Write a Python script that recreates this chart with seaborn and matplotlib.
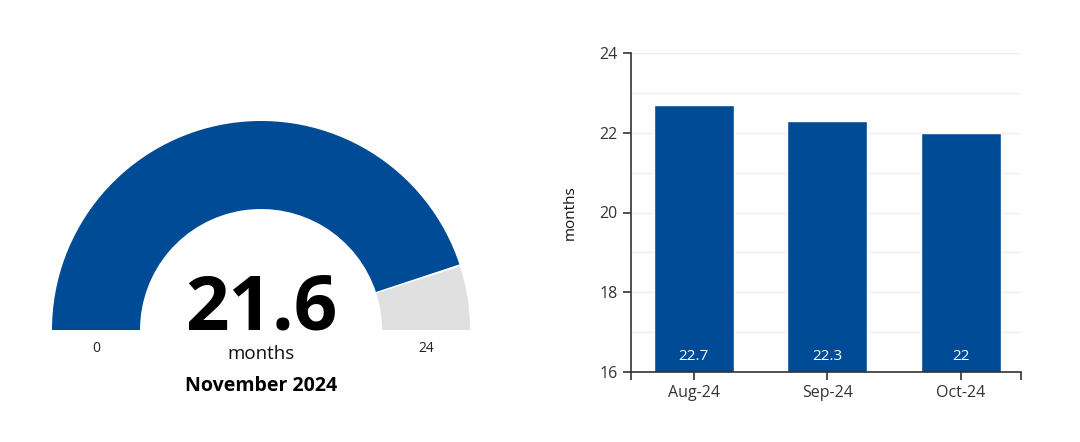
import pandas as pd
import seaborn as sns
import matplotlib.pyplot as plt
from matplotlib.patches import Wedge

# gauge data
gauge_value = 21.6
gauge_min = 0
gauge_max = 24
gauge_unit = "months"
gauge_title = "November 2024"

# bar data
months = ["Aug-24", "Sep-24", "Oct-24"]
values = [22.7, 22.3, 22.0]
value_labels = ["22.7", "22.3", "22"]

blue = "#004B96"
grey = "#E0E0E0"

sns.set_theme(style="white")
plt.rcParams['font.family'] = ['Open Sans', 'DejaVu Sans']

fig = plt.figure(figsize=(10.8, 4.42), dpi=100)

# --- gauge (pixel-like data units) ---
gax = fig.add_axes([0, 0, 0.5, 1])
gax.set_xlim(0, 540)
gax.set_ylim(0, 442)
gax.axis("off")

cx, cy = 261, 112
r_out, ring = 209, 88
split = 180 - 180 * (gauge_value - gauge_min) / (gauge_max - gauge_min)
gax.add_patch(Wedge((cx, cy), r_out, split, 180, width=ring, facecolor=blue, edgecolor="none"))
gax.add_patch(Wedge((cx, cy), r_out, 0, split, width=ring, facecolor=grey, edgecolor="none"))
# thin white gap between the two parts
gax.add_patch(Wedge((cx, cy), r_out + 1, split - 0.3, split + 0.3, width=ring + 2, facecolor="white", edgecolor="none"))

mid_r = r_out - ring / 2
gax.text(cx - mid_r, cy - 18, str(gauge_min), ha="center", va="center", fontsize=10, color="#222222")
gax.text(cx + mid_r, cy - 18, str(gauge_max), ha="center", va="center", fontsize=10, color="#222222")
gax.text(cx, cy + 1, f"{gauge_value}", ha="center", va="baseline", fontsize=55, fontweight="bold", color="black")
gax.text(cx, cy - 24, gauge_unit, ha="center", va="center", fontsize=13.5, color="#111111")
gax.text(cx, cy - 56, gauge_title, ha="center", va="center", fontsize=14, fontweight="bold", color="black")

# --- bar chart ---
ax = fig.add_axes([631 / 1080, 70 / 442, 390 / 1080, 319 / 442])
df = pd.DataFrame({"month": months, "value": values})
sns.barplot(data=df, x="month", y="value", color=blue, saturation=1, width=0.6, ax=ax)

ax.set_ylim(16, 24)
ax.set_xlim(-0.47, 2.45)
ax.set_yticks([16, 18, 20, 22, 24])
ax.set_yticks(range(16, 25), minor=True)
ax.grid(which="both", axis="y", color="#EEEEEE", linewidth=1)
ax.set_axisbelow(True)
ax.set_xticks(range(len(months)))
ax.set_xticklabels(months)
ax.set_xticks([-0.47, 2.45], minor=True)

for s in ["top", "right"]:
    ax.spines[s].set_visible(False)
for s in ["left", "bottom"]:
    ax.spines[s].set_color("#333333")
    ax.spines[s].set_linewidth(1.2)

ax.tick_params(axis="both", which="major", direction="out", length=6, width=1.2,
               color="#333333", labelsize=11.5, labelcolor="#333333",
               left=True, bottom=True)
ax.tick_params(axis="x", which="minor", direction="out", length=6, width=1.2,
               color="#333333", bottom=True)
ax.tick_params(axis="y", which="minor", length=0, left=False)

ax.set_xlabel("")
ax.set_ylabel("months", fontsize=11, color="#111111", labelpad=16)

for i, lab in enumerate(value_labels):
    ax.text(i, 16.4, lab, ha="center", va="center", color="white", fontsize=11)

fig.savefig("out.png", dpi=100, facecolor="white")
